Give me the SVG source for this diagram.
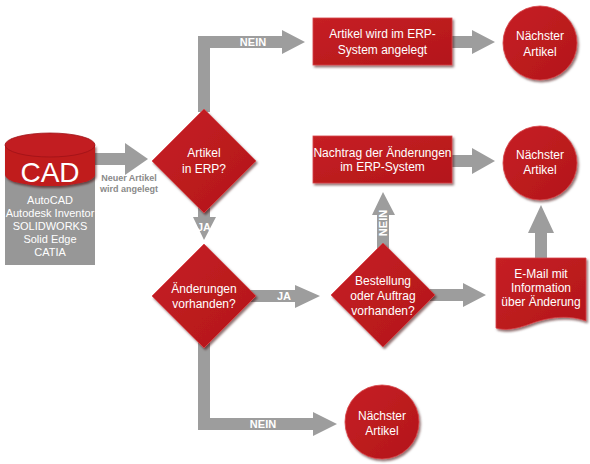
<svg xmlns="http://www.w3.org/2000/svg" width="590" height="464" viewBox="0 0 590 464">
<defs>
<filter id="sh" x="-20%" y="-20%" width="150%" height="150%">
<feDropShadow dx="1.5" dy="2" stdDeviation="1.2" flood-color="#3a0000" flood-opacity="0.55"/>
</filter>
<linearGradient id="rg" x1="0" y1="0" x2="1" y2="1">
<stop offset="0" stop-color="#c62024"/>
<stop offset="1" stop-color="#b3161a"/>
</linearGradient>
</defs>
<style>
.n{fill:url(#rg);stroke:#d8454a;stroke-width:0.8;filter:url(#sh)}
.t{font-family:"Liberation Sans",Arial,sans-serif;font-size:12px;fill:#fff;text-anchor:middle}
.a{fill:#9d9d9d}
.l{font-family:"Liberation Sans",Arial,sans-serif;font-size:11px;font-weight:bold;fill:#fff;text-anchor:middle}
.g{font-family:"Liberation Sans",Arial,sans-serif;font-size:9px;font-weight:bold;fill:#8a8a8a;text-anchor:middle}
</style>
<rect width="590" height="464" fill="#fff"/>
<g id="connectors">
<path class="a" d="M95,153 H125 V143 L148,159 L125,175 V165 H95 Z"/>
<path class="a" d="M198,112 V36 H282 V30 L305,42 L282,54 V48 H210 V112 Z"/>
<path class="a" d="M452,36 H472 V30 L495,42 L472,54 V48 H452 Z"/>
<path class="a" d="M198,200 V217 H193 L204,240 L216,217 H210 V200 Z"/>
<path class="a" d="M250,290 H295 V285 L320,296 L295,308 V302 H250 Z"/>
<path class="a" d="M377,250 V215 H372 L383,192 L395,215 H389 V250 Z"/>
<path class="a" d="M452,155 H472 V148 L495,161 L472,174 V167 H452 Z"/>
<path class="a" d="M430,289 H463 V283 L486,295 L463,307 V301 H430 Z"/>
<path class="a" d="M535,262 V233 H528 L541,205 L554,233 H547 V262 Z"/>
<path class="a" d="M198,340 V430 H313 V436 L337,424 L313,412 V418 H210 V340 Z"/>
<text class="l" x="253" y="46">NEIN</text>
<text class="l" x="204" y="231" font-size="10">JA</text>
<text class="l" x="284" y="300" font-size="10">JA</text>
<text class="l" x="263" y="428">NEIN</text>
<text class="l" transform="translate(387,223) rotate(-90)">NEIN</text>
<text class="g" x="129" y="181">Neuer Artikel</text>
<text class="g" x="129" y="191.5">wird angelegt</text>
</g>
<g id="cad">
<rect x="5" y="165" width="90" height="100" fill="#979797"/>
<path d="M5,145 V175 A45,11 0 0 0 95,175 V145 Z" fill="#c01b1f" filter="url(#sh)"/>
<ellipse cx="50" cy="145" rx="45" ry="12" fill="#c21d21" stroke="#9e1216" stroke-width="0.8"/>
<text x="50" y="182" font-family="'Liberation Sans',Arial,sans-serif" font-size="28" fill="#fff" text-anchor="middle">CAD</text>
<g font-family="'Liberation Sans',Arial,sans-serif" font-size="11" fill="#fff" text-anchor="middle">
<text x="50" y="204">AutoCAD</text>
<text x="50" y="217">Autodesk Inventor</text>
<text x="50" y="230">SOLIDWORKS</text>
<text x="50" y="243">Solid Edge</text>
<text x="50" y="256">CATIA</text>
</g>
</g>
<g id="d1">
<polygon class="n" points="204,109 256,161 204,213 152,161"/>
<text class="t" x="204" y="157">Artikel</text>
<text class="t" x="204" y="173">in ERP?</text>
</g>
<g id="box1">
<rect class="n" x="313" y="18" width="139" height="47"/>
<text class="t" x="382.5" y="38">Artikel wird im ERP-</text>
<text class="t" x="382.5" y="54">System angelegt</text>
</g>
<g id="c1">
<circle class="n" cx="540" cy="43" r="37"/>
<text class="t" x="540" y="40">Nächster</text>
<text class="t" x="540" y="56">Artikel</text>
</g>
<g id="box2">
<rect class="n" x="313" y="136" width="139" height="47"/>
<text class="t" x="382.5" y="157" font-size="11.5">Nachtrag der Änderungen</text>
<text class="t" x="382.5" y="171">im ERP-System</text>
</g>
<g id="c2">
<circle class="n" cx="540" cy="163" r="37"/>
<text class="t" x="540" y="159">Nächster</text>
<text class="t" x="540" y="174">Artikel</text>
</g>
<g id="d2">
<polygon class="n" points="204,244 256,296 204,348 152,296"/>
<text class="t" x="204" y="293">Änderungen</text>
<text class="t" x="204" y="308">vorhanden?</text>
</g>
<g id="d3">
<polygon class="n" points="383,243 435,295 383,347 331,295"/>
<text class="t" x="383" y="285">Bestellung</text>
<text class="t" x="383" y="300">oder Auftrag</text>
<text class="t" x="383" y="315">vorhanden?</text>
</g>
<g id="email">
<path class="n" d="M496,258 H586 V321 C566,314 546,318 530,324 C516,329 506,331 496,328 Z"/>
<text class="t" x="541" y="278">E-Mail mit</text>
<text class="t" x="541" y="292">Information</text>
<text class="t" x="541" y="306">über Änderung</text>
</g>
<g id="c3">
<circle class="n" cx="382" cy="422" r="37"/>
<text class="t" x="382" y="420">Nächster</text>
<text class="t" x="382" y="435">Artikel</text>
</g>
</svg>
